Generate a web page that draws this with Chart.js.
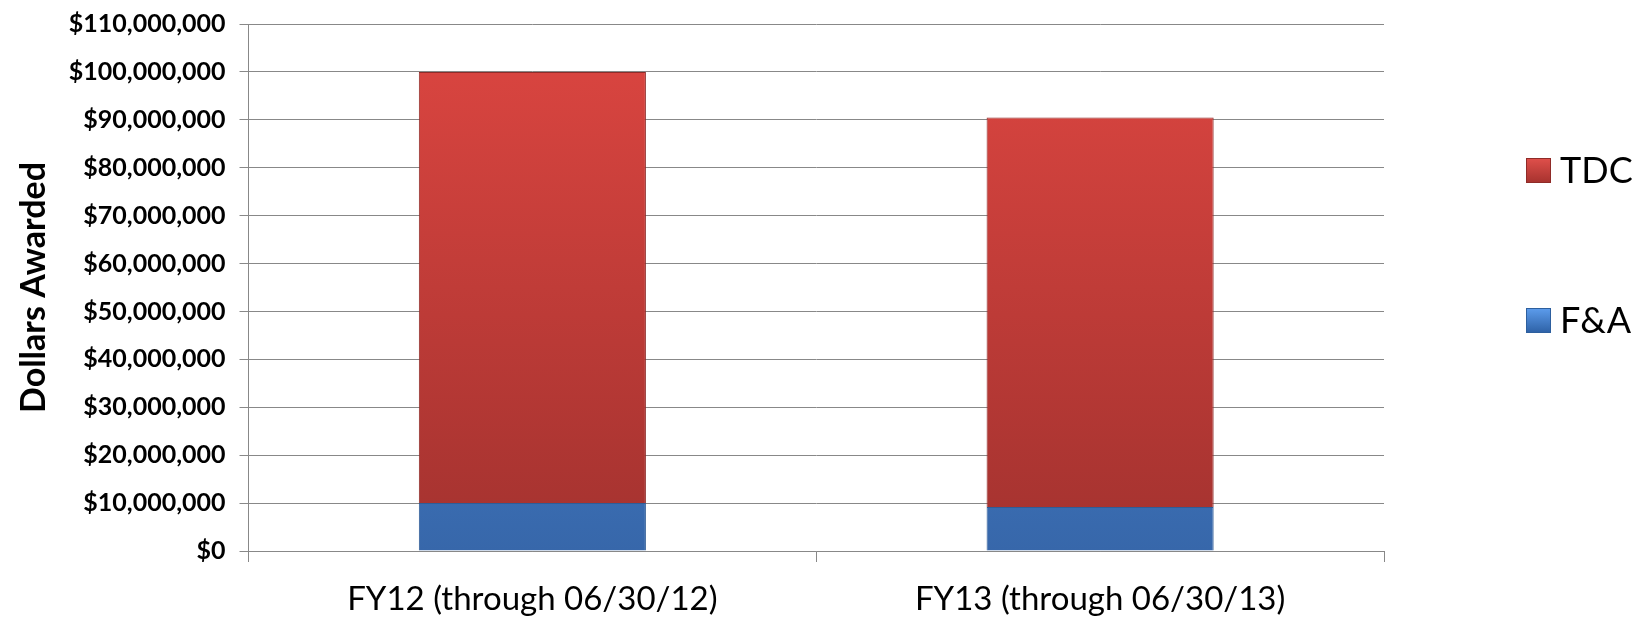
<!DOCTYPE html>
<html>
<head>
<meta charset="utf-8">
<script src="https://cdn.jsdelivr.net/npm/chart.js@4"></script>
<style>
  html, body { margin: 0; padding: 0; background: #fff; }
  #wrap { width: 1648px; height: 619px; position: relative; }
</style>
</head>
<body>
<div id="wrap"><canvas id="grafico"></canvas></div>
<script>
const categorias = ['FY12 (through 06/30/12)', 'FY13 (through 06/30/13)'];
const valoresFA = [10000000, 9200000];
const valoresTDC = [90000000, 81300000];
const rotuloEixoY = 'Dollars Awarded';

function gradiente(ctx, area, topo, base) {
    const g = ctx.createLinearGradient(0, area.top, 0, area.bottom);
    g.addColorStop(0, topo);
    g.addColorStop(1, base);
    return g;
}

function corBarra(topo, base) {
    return (c) => {
        const area = c.chart.chartArea;
        if (!area) return base;
        return gradiente(c.chart.ctx, area, topo, base);
    };
}

// legenda desenhada à mão, à direita do gráfico
const legendaDireita = {
    id: 'legendaDireita',
    afterDraw(chart) {
        const ctx = chart.ctx;
        const itens = [
            { texto: chart.data.datasets[1].label, topo: '#e0504b', base: '#a8332f', borda: '#8f2b28', y: 170 },
            { texto: chart.data.datasets[0].label, topo: '#5d9ded', base: '#2f63a8', borda: '#2d5f9e', y: 320 }
        ];
        ctx.save();
        ctx.font = '36px Lato';
        ctx.textBaseline = 'middle';
        itens.forEach(it => {
            const g = ctx.createLinearGradient(0, it.y - 12, 0, it.y + 12);
            g.addColorStop(0, it.topo);
            g.addColorStop(1, it.base);
            ctx.fillStyle = g;
            ctx.fillRect(1526, it.y - 12, 25, 25);
            ctx.strokeStyle = it.borda;
            ctx.lineWidth = 1;
            ctx.strokeRect(1526.5, it.y - 11.5, 24, 24);
            ctx.fillStyle = '#000';
            ctx.fillText(it.texto, 1560, it.y + 1);
        });
        ctx.restore();
    }
};

const grafico = new Chart(document.getElementById('grafico').getContext('2d'), {
    type: 'bar',
    data: {
        labels: categorias,
        datasets: [{
            label: 'F&A',
            data: valoresFA,
            backgroundColor: corBarra('#4d91e2', '#3767aa'),
            borderColor: '#2f5c96',
            borderWidth: 1,
            barPercentage: 0.8,
            categoryPercentage: 0.5
        }, {
            label: 'TDC',
            data: valoresTDC,
            backgroundColor: corBarra('#dd4641', '#a3322f'),
            borderColor: '#8f2b28',
            borderWidth: 1,
            barPercentage: 0.8,
            categoryPercentage: 0.5
        }]
    },
    options: {
        responsive: true,
        maintainAspectRatio: false,
        animation: false,
        layout: {
            padding: { top: 2, right: 264, bottom: 0, left: 14 }
        },
        scales: {
            x: {
                stacked: true,
                offset: true,
                // altura fixa do eixo x para o rótulo ficar mais baixo
                afterFit: (escala) => { escala.height = 68; },
                grid: {
                    offset: true,
                    drawOnChartArea: false,
                    color: '#888',
                    tickLength: 11
                },
                border: { color: '#888' },
                ticks: {
                    color: '#000',
                    font: { family: 'Lato', size: 33, lineHeight: 0.65 },
                    padding: 27
                }
            },
            y: {
                stacked: true,
                min: 0,
                max: 110000000,
                grid: {
                    color: '#888',
                    tickLength: 9
                },
                border: { color: '#888' },
                ticks: {
                    stepSize: 10000000,
                    color: '#000',
                    font: { family: 'Lato', size: 25, weight: 'bold', lineHeight: 0.8 },
                    padding: 14,
                    callback: (v) => '$' + v.toLocaleString('en-US')
                },
                title: {
                    display: true,
                    text: rotuloEixoY,
                    color: '#000',
                    font: { family: 'Lato', size: 34, weight: 'bold' },
                    padding: { top: 0, bottom: 0 }
                }
            }
        },
        plugins: {
            legend: { display: false },
            tooltip: { enabled: false }
        }
    },
    plugins: [legendaDireita]
});
</script>
</body>
</html>
